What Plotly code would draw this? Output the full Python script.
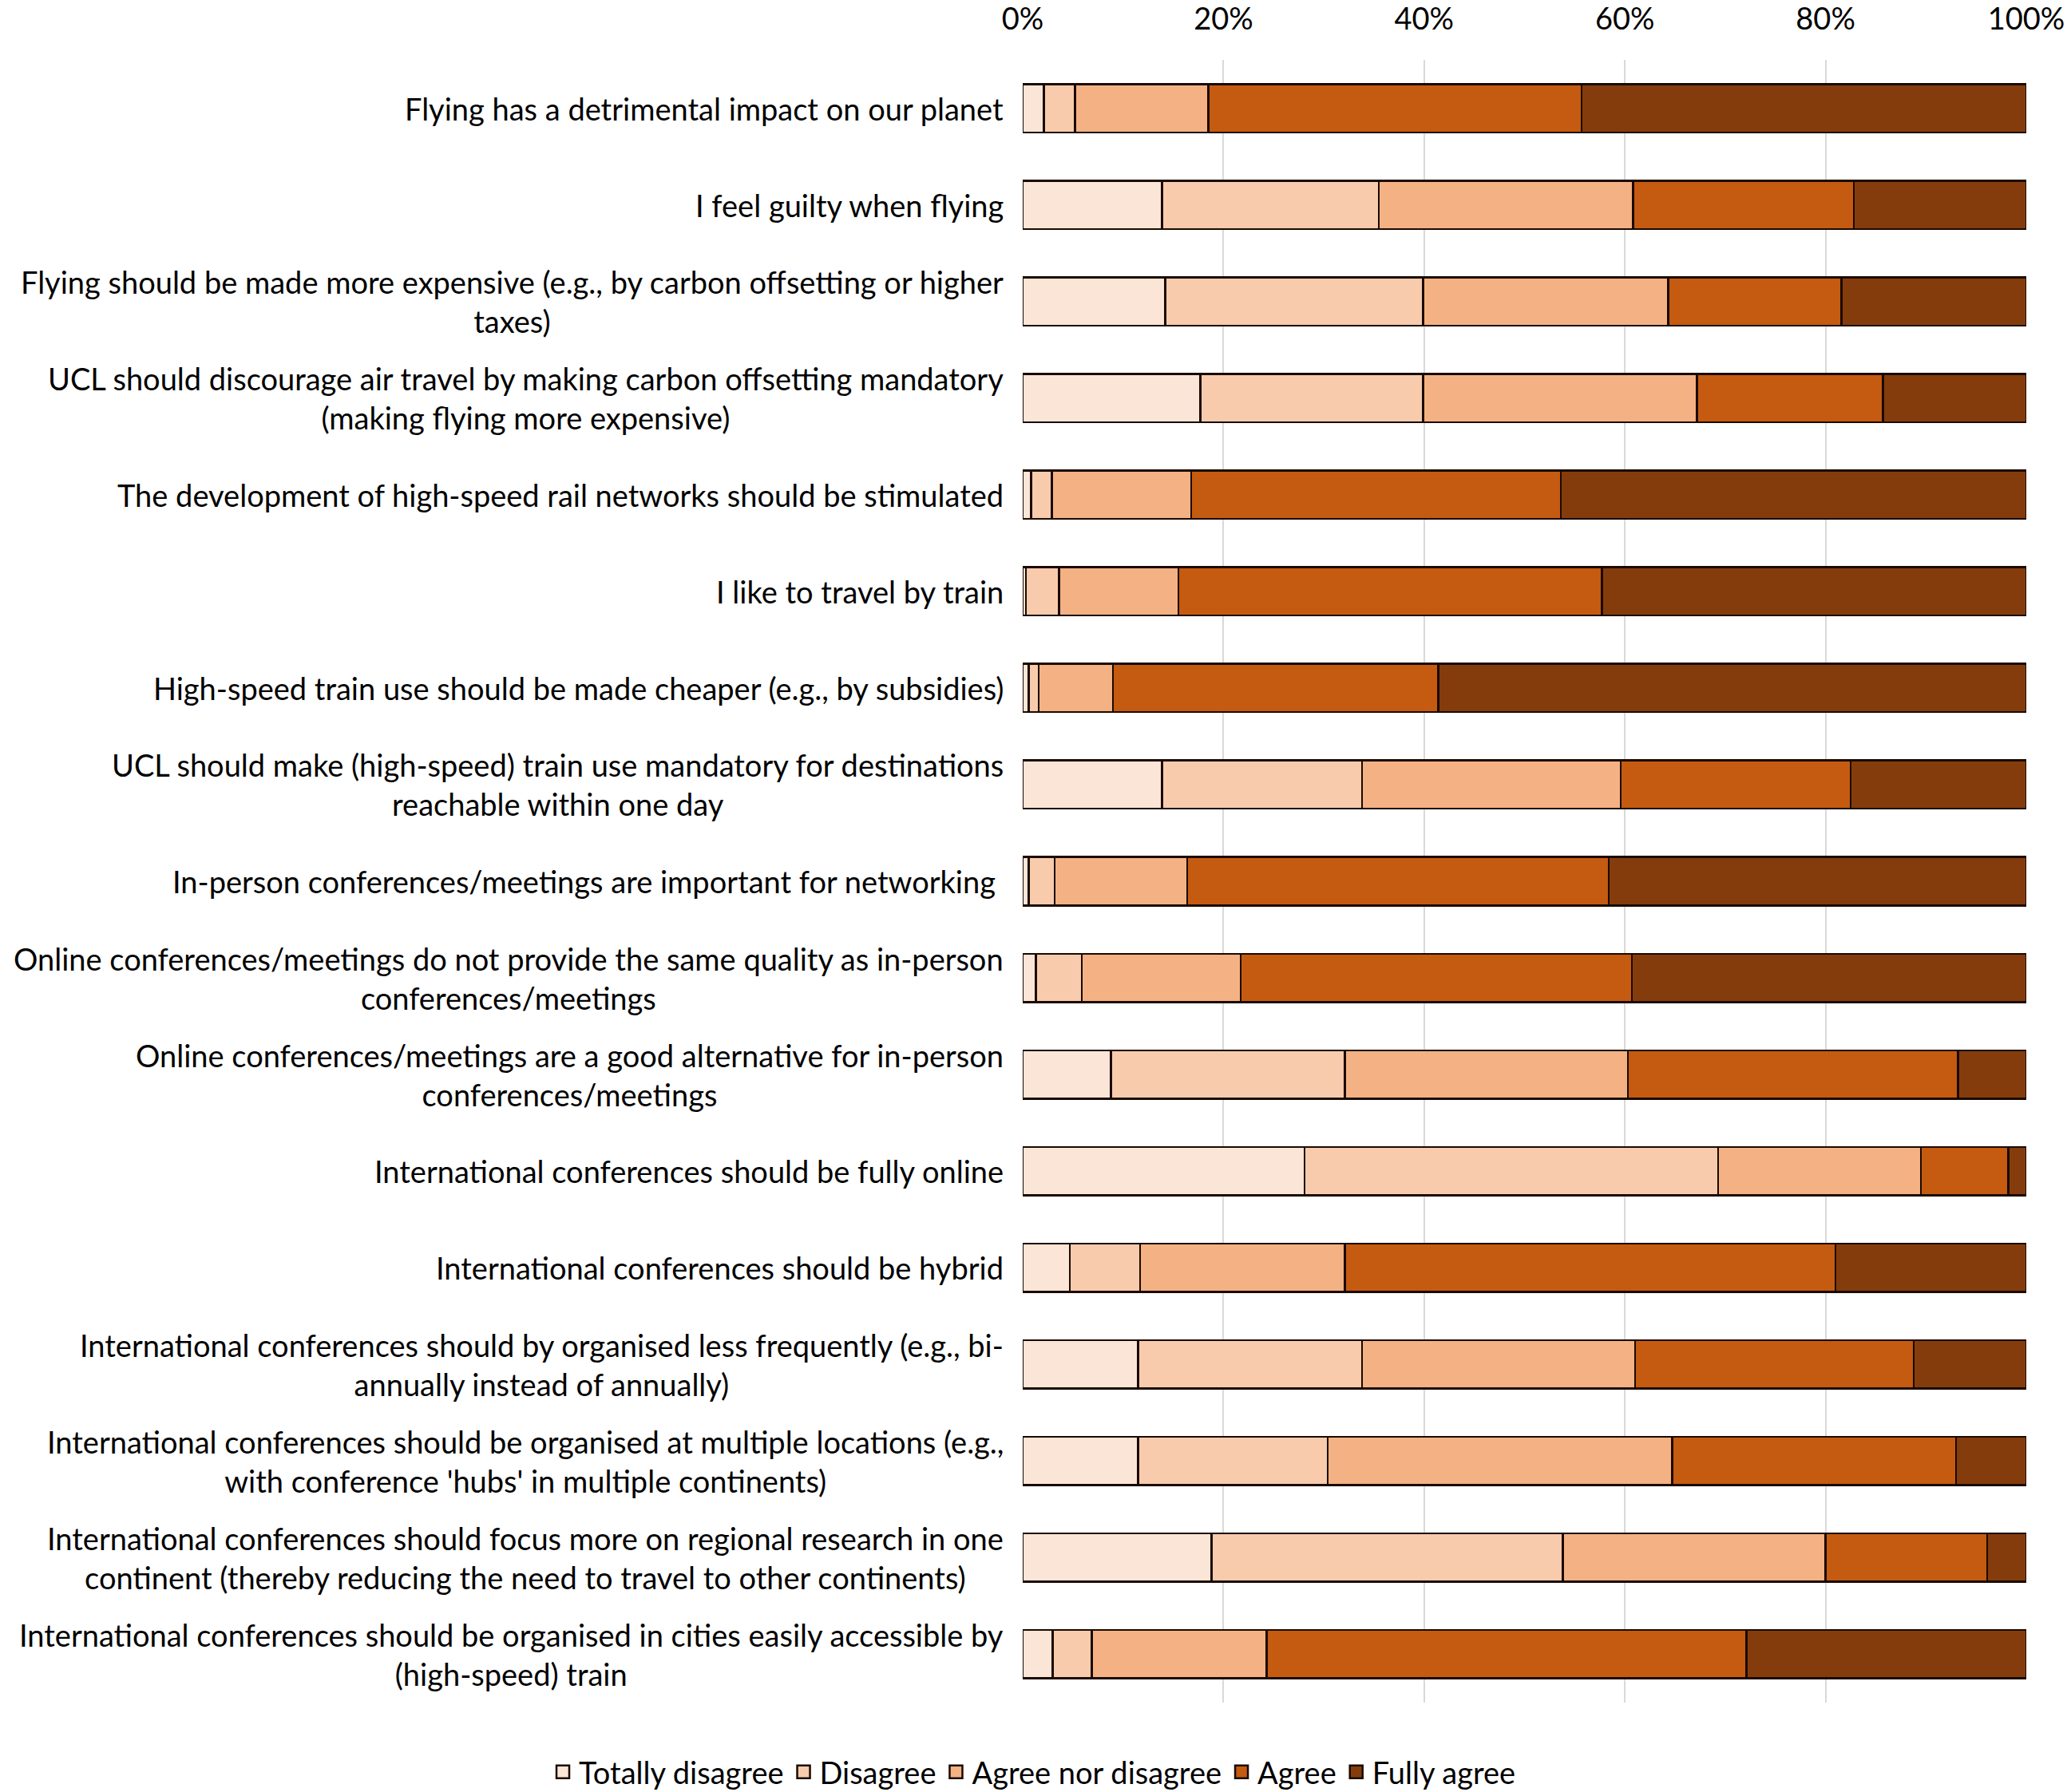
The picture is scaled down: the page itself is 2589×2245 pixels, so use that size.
import plotly.graph_objects as go

statements = [
    "Flying has a detrimental impact on our planet",
    "I feel guilty when flying",
    "Flying should be made more expensive (e.g., by carbon offsetting or higher<br>taxes)",
    "UCL should discourage air travel by making carbon offsetting mandatory<br>(making flying more expensive)",
    "The development of high-speed rail networks should be stimulated",
    "I like to travel by train",
    "High-speed train use should be made cheaper (e.g., by subsidies)",
    "UCL should make (high-speed) train use mandatory for destinations<br>reachable within one day",
    "In-person conferences/meetings are important for networking ",
    "Online conferences/meetings do not provide the same quality as in-person<br>conferences/meetings",
    "Online conferences/meetings are a good alternative for in-person<br>conferences/meetings",
    "International conferences should be fully online",
    "International conferences should be hybrid",
    "International conferences should by organised less frequently (e.g., bi-<br>annually instead of annually)",
    "International conferences should be organised at multiple locations (e.g.,<br>with conference 'hubs' in multiple continents)",
    "International conferences should focus more on regional research in one<br>continent (thereby reducing the need to travel to other continents)",
    "International conferences should be organised in cities easily accessible by<br>(high-speed) train",
]

totally_disagree = [2.1, 13.9, 14.2, 17.7, 0.85, 0.33, 0.6, 13.9, 0.6, 1.3, 8.8, 28.1, 4.7, 11.5, 11.5, 18.8, 3.0]
disagree         = [3.1, 21.6, 25.7, 22.2, 2.05, 3.3, 1.0, 19.9, 2.6, 4.6, 23.3, 41.2, 7.0, 22.3, 18.9, 35.0, 3.9]
neutral          = [13.3, 25.3, 24.4, 27.3, 13.9, 11.9, 7.4, 25.8, 13.2, 15.8, 28.2, 20.2, 20.4, 27.2, 34.3, 26.2, 17.4]
agree            = [37.2, 22.0, 17.3, 18.5, 36.8, 42.2, 32.4, 22.9, 42.0, 39.0, 32.9, 8.7, 48.9, 27.8, 28.3, 16.1, 47.8]
fully_agree      = [44.3, 17.2, 18.4, 14.3, 46.4, 42.3, 58.6, 17.5, 41.6, 39.3, 6.8, 1.8, 19.0, 11.2, 7.0, 3.9, 27.9]

series_names = ["Totally disagree", "Disagree", "Agree nor disagree", "Agree", "Fully agree"]
series_values = [totally_disagree, disagree, neutral, agree, fully_agree]
series_colors = ["#FBE5D6", "#F8CBAD", "#F4B183", "#C55A11", "#843C0C"]

tick_vals = [0, 20, 40, 60, 80, 100]
tick_text = ["0%", "20%", "40%", "60%", "80%", "100%"]

FONT = "Lato"
FS = 38
OUTLINE = "#1a0a00"

fig = go.Figure()
for name, vals, col in zip(series_names, series_values, series_colors):
    fig.add_trace(go.Bar(
        y=statements, x=vals, name=name, orientation="h",
        marker=dict(color=col, line=dict(color=OUTLINE, width=2.5)),
        legendgroup=name, showlegend=False,
    ))
# legend entries with larger square swatches
for name, col in zip(series_names, series_colors):
    fig.add_trace(go.Scatter(
        x=[None], y=[None], mode="markers", name=name, legendgroup=name,
        marker=dict(symbol="square", size=16, color=col,
                    line=dict(color=OUTLINE, width=2.5)),
        showlegend=True, hoverinfo="skip",
    ))

for s in statements:
    fig.add_annotation(
        x=0, y=s, xref="x", yref="y", text=s, showarrow=False,
        xanchor="right", yanchor="middle", align="center", xshift=-22,
        font=dict(family=FONT, size=FS, color="#000000"),
    )

fig.update_layout(
    width=2589, height=2245,
    barmode="stack", bargap=0.5,
    paper_bgcolor="white", plot_bgcolor="white",
    margin=dict(l=1281, r=51, t=75, b=112, autoexpand=False),
    font=dict(family=FONT, size=FS, color="#000000"),
    legend=dict(
        orientation="h", xref="container", x=0.5, xanchor="center",
        yref="container", y=0.0111, yanchor="middle",
        font=dict(family=FONT, size=FS, color="#000000"),
        itemsizing="trace", traceorder="normal",
    ),
    showlegend=True,
)
fig.update_xaxes(
    side="top", range=[0, 100], tickvals=tick_vals, ticktext=tick_text,
    showgrid=True, gridcolor="#D9D9D9", gridwidth=2, zeroline=False,
    showline=False, ticks="", ticklabelstandoff=29, automargin=False,
    tickfont=dict(family=FONT, size=FS, color="#000000"),
)
fig.update_yaxes(
    autorange="reversed", showticklabels=False, showgrid=False,
    zeroline=False, showline=False, ticks="", automargin=False,
)

fig.write_html(
    "out.html",
    config={"displayModeBar": False},
    post_script="document.body.style.margin='0';document.body.style.overflow='hidden';",
)
